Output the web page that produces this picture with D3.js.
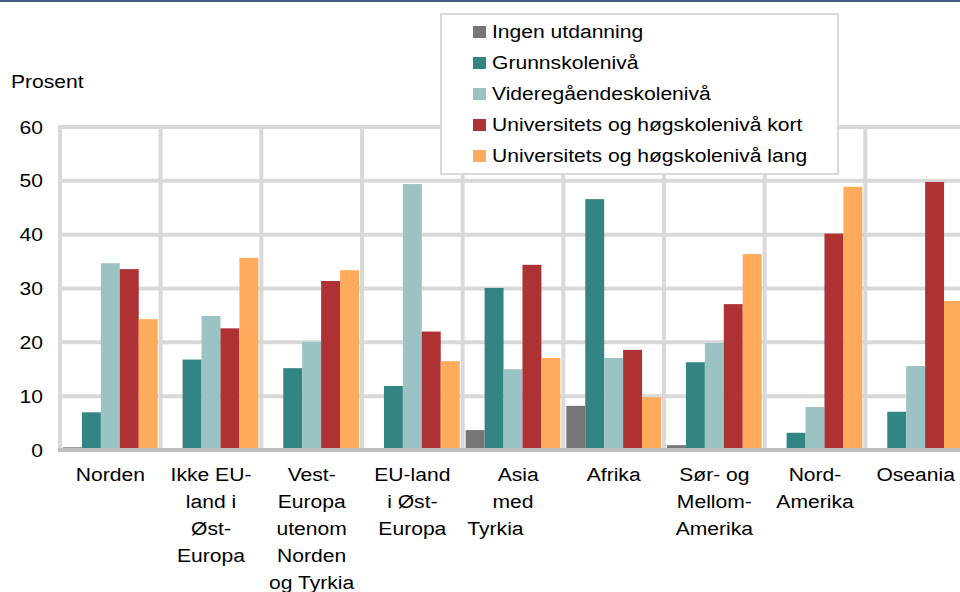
<!DOCTYPE html>
<html>
<head>
<meta charset="utf-8">
<script src="https://cdn.jsdelivr.net/npm/d3@7"></script>
<style>
  body { margin: 0; background: #fff; }
  svg { display: block; font-family: Arial, "Liberation Sans", sans-serif; }
</style>
</head>
<body>
<svg width="960" height="592"></svg>
<script>
var width = 960;
var height = 592;
var fontSize = "19px";
var stretch = 1.11; // text in the reference is a little wider than plain Arial

// regions (label lines as shown under each group)
var regions = ["Norden", "Ikke EU-land i Øst-Europa", "Vest-Europa utenom Norden og Tyrkia",
    "EU-land i Øst-Europa", "Asia med Tyrkia", "Afrika", "Sør- og Mellom-Amerika",
    "Nord-Amerika", "Oseania"];
var regionLines = [
    ["Norden"],
    ["Ikke EU-", "land i", "Øst-", "Europa"],
    ["Vest-", "Europa", "utenom", "Norden", "og Tyrkia"],
    ["EU-land", "i Øst-", "Europa"],
    ["  Asia", "med", "Tyrkia      "],
    ["Afrika"],
    ["Sør- og", "Mellom-", "Amerika"],
    ["Nord-", "Amerika"],
    ["Oseania"]
];

var seriesNames = ["Ingen utdanning", "Grunnskolenivå", "Videregåendeskolenivå",
    "Universitets og høgskolenivå kort", "Universitets og høgskolenivå lang"];
var seriesColors = ["#767676", "#338583", "#9cc3c3", "#ae3233", "#ffab5b"];

// values per series, in region order
var ingen      = [0.5, 0, 0, 0, 3.7, 8.2, 0.9, 0, 0];
var grunn      = [7.0, 16.8, 15.2, 11.9, 30.1, 46.6, 16.3, 3.2, 7.1];
var videre     = [34.7, 24.9, 20.1, 49.4, 15.0, 17.1, 19.9, 8.0, 15.6];
var uniKort    = [33.6, 22.6, 31.4, 22.0, 34.4, 18.6, 27.1, 40.2, 49.8];
var uniLang    = [24.3, 35.7, 33.4, 16.5, 17.1, 9.8, 36.4, 48.9, 27.7];
var seriesValues = [ingen, grunn, videre, uniKort, uniLang];

var yTicks = [0, 10, 20, 30, 40, 50, 60];

var chart = d3.select("svg");

// top border
chart.append("rect")
    .attr("x", 0).attr("y", 0)
    .attr("width", width).attr("height", 2)
    .attr("fill", "#445a88");

var plotLeft = 60, plotRight = 966, plotTop = 127, plotBottom = 450;

var x0 = d3.scaleBand().domain(regions).range([plotLeft, plotRight]).padding(0);
var x1 = d3.scaleBand().domain(seriesNames).range([3, x0.bandwidth() - 3]).padding(0);
var y = d3.scaleLinear().domain([0, 60]).range([plotBottom, plotTop]);

// grid lines
chart.append("g").selectAll("line")
    .data(yTicks.filter(function (t) { return t > 0; }))
    .enter().append("line")
    .attr("x1", plotLeft - 2).attr("x2", plotRight)
    .attr("y1", function (d) { return y(d); })
    .attr("y2", function (d) { return y(d); })
    .attr("stroke", "#d9d9d9").attr("stroke-width", 4);

chart.append("g").selectAll("line")
    .data(regions)
    .enter().append("line")
    .attr("x1", function (d) { return x0(d); })
    .attr("x2", function (d) { return x0(d); })
    .attr("y1", plotTop - 2).attr("y2", plotBottom)
    .attr("stroke", "#d9d9d9").attr("stroke-width", 4);

// bars
var groups = chart.append("g").selectAll("g")
    .data(regions)
    .enter().append("g")
    .attr("transform", function (d) { return "translate(" + x0(d) + ",0)"; });

groups.selectAll("rect")
    .data(function (d, i) {
        return seriesNames.map(function (s, j) {
            return { series: s, value: seriesValues[j][i], color: seriesColors[j] };
        });
    })
    .enter().append("rect")
    .attr("x", function (d) { return x1(d.series); })
    .attr("width", x1.bandwidth())
    .attr("y", function (d) { return y(d.value); })
    .attr("height", function (d) { return plotBottom - y(d.value); })
    .attr("fill", function (d) { return d.color; });

// baseline
chart.append("line")
    .attr("x1", plotLeft - 2).attr("x2", plotRight)
    .attr("y1", y(0)).attr("y2", y(0))
    .attr("stroke", "#bfbfbf").attr("stroke-width", 4);

// y axis labels
var yAxis = d3.axisLeft(y).tickValues(yTicks).tickSize(0).tickPadding(0);
var yAxisG = chart.append("g")
    .attr("transform", "translate(" + plotLeft + ",0)")
    .call(yAxis);
yAxisG.select(".domain").remove();
yAxisG.selectAll("text")
    .attr("x", -17 / stretch)
    .attr("transform", "scale(" + stretch + ",1)")
    .attr("font-size", fontSize)
    .attr("font-family", "Arial, 'Liberation Sans', sans-serif")
    .attr("fill", "#000");

chart.append("text")
    .attr("transform", "translate(11,88) scale(" + stretch + ",1)")
    .attr("font-size", fontSize)
    .attr("fill", "#000")
    .text("Prosent");

// category labels
var catLabels = chart.append("g").selectAll("text")
    .data(regions)
    .enter().append("text")
    .attr("transform", function (d) {
        return "translate(" + (x0(d) + x0.bandwidth() / 2) + ",481) scale(" + stretch + ",1)";
    })
    .attr("text-anchor", "middle")
    .attr("font-size", fontSize)
    .attr("fill", "#000")
    .style("white-space", "pre");

catLabels.each(function (d, i) {
    var t = d3.select(this);
    regionLines[i].forEach(function (line, k) {
        t.append("tspan")
            .attr("x", 0)
            .attr("dy", k === 0 ? 0 : 27)
            .text(line);
    });
});

// legend
var legend = chart.append("g").attr("transform", "translate(441,14)");
legend.append("rect")
    .attr("x", 0).attr("y", 0)
    .attr("width", 397).attr("height", 160)
    .attr("fill", "#fff")
    .attr("stroke", "#d9d9d9").attr("stroke-width", 2);

var legendItems = legend.selectAll("g.item")
    .data(seriesNames)
    .enter().append("g")
    .attr("class", "item")
    .attr("transform", function (d, i) { return "translate(0," + (18 + i * 31) + ")"; });

legendItems.append("rect")
    .attr("x", 32).attr("y", -6)
    .attr("width", 13).attr("height", 12)
    .attr("fill", function (d, i) { return seriesColors[i]; });

legendItems.append("text")
    .attr("transform", "translate(51,5.7) scale(" + stretch + ",1)")
    .attr("font-size", fontSize)
    .attr("fill", "#000")
    .text(function (d) { return d; });
</script>
</body>
</html>
